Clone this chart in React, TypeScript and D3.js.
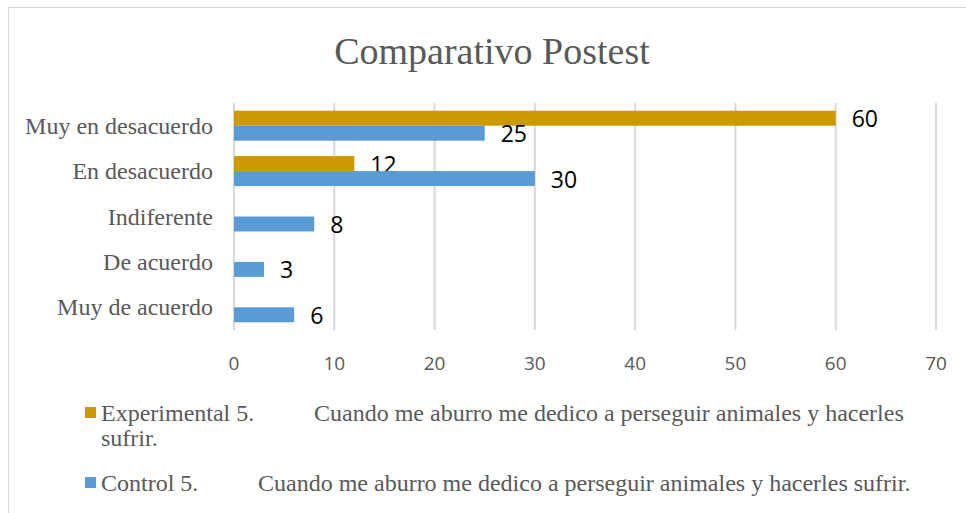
import React from "react";
import * as d3 from "d3";

const categories = ["Muy en desacuerdo", "En desacuerdo", "Indiferente", "De acuerdo", "Muy de acuerdo"];
const experimental: (number | null)[] = [60, 12, null, null, null];
const control: (number | null)[] = [25, 30, 8, 3, 6];
const xTicks = [0, 10, 20, 30, 40, 50, 60, 70];
const seriesNames = ["Experimental", "Control"];
const legendQuestion = "5.";
const legendText = "Cuando me aburro me dedico a perseguir animales y hacerles";
const legendTextFull = "Cuando me aburro me dedico a perseguir animales y hacerles sufrir.";

export default function App() {
  const W = 966, H = 513;
  const x = d3.scaleLinear().domain([0, 70]).range([234, 936]);
  const y = d3.scaleBand().domain(categories).range([103, 330]).paddingInner(0.34).paddingOuter(0.17);
  const sub = d3.scaleBand().domain(seriesNames).range([0, y.bandwidth()]);
  const colors: Record<string, string> = { Experimental: "#CC9900", Control: "#5B9BD5" };
  const serif = "'Liberation Serif', 'Times New Roman', serif";
  const sans = "'Open Sans', 'Liberation Sans', sans-serif";
  const series = [
    { name: "Experimental", values: experimental },
    { name: "Control", values: control },
  ];
  return (
    <svg width={W} height={H} style={{ position: "absolute", left: 0, top: 0, background: "#fff" }}>
      <rect x={8.5} y={7.5} width={W + 10} height={H + 10} fill="#fff" stroke="#d9d9d9" strokeWidth={1} />
      <text x={492} y={64} textAnchor="middle" fontFamily={serif} fontSize={38} fill="#595959">
        Comparativo Postest
      </text>
      {xTicks.map((t) => (
        <g key={t}>
          <line x1={x(t)} x2={x(t)} y1={103} y2={330} stroke="#d9d9d9" strokeWidth={2} />
          <text x={x(t)} y={370} textAnchor="middle" fontFamily={sans} fontSize={19} fill="#595959">
            {t}
          </text>
        </g>
      ))}
      {categories.map((c) => (
        <text key={c} x={213} y={(y(c) as number) + y.bandwidth() / 2 + 8} textAnchor="end" fontFamily={serif} fontSize={24} fill="#595959">
          {c}
        </text>
      ))}
      {series.map((s) =>
        s.values.map((v, i) => {
          if (v == null) return null;
          const c = categories[i];
          const yy = (y(c) as number) + (sub(s.name) as number);
          return (
            <g key={s.name + i}>
              <rect x={x(0)} y={yy} width={x(v) - x(0)} height={sub.bandwidth()} fill={colors[s.name]} />
              <text x={x(v) + 16} y={yy + sub.bandwidth() / 2 + 9} fontFamily={sans} fontSize={23} fill="#000">
                {v}
              </text>
            </g>
          );
        })
      )}
      <rect x={85} y={407} width={11} height={11} fill={colors.Experimental} />
      <text x={101} y={421} fontFamily={serif} fontSize={24} fill="#595959">
        {seriesNames[0] + " " + legendQuestion}
      </text>
      <text x={314} y={421} fontFamily={serif} fontSize={24} fill="#595959">{legendText}</text>
      <text x={101} y={446} fontFamily={serif} fontSize={24} fill="#595959">sufrir.</text>
      <rect x={85} y={477} width={11} height={11} fill={colors.Control} />
      <text x={101} y={491} fontFamily={serif} fontSize={24} fill="#595959">
        {seriesNames[1] + " " + legendQuestion}
      </text>
      <text x={258} y={491} fontFamily={serif} fontSize={24} fill="#595959">{legendTextFull}</text>
    </svg>
  );
}
